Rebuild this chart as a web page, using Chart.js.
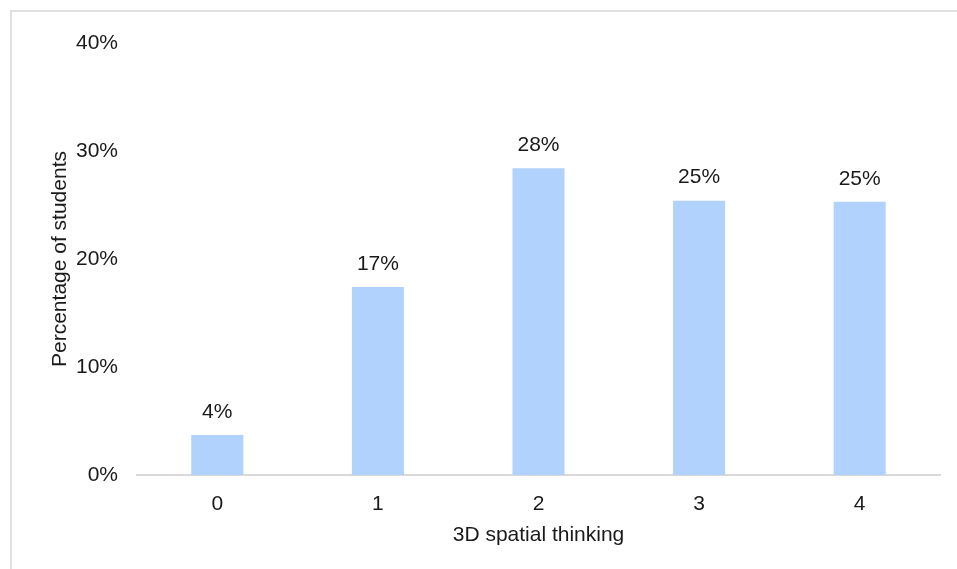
<!DOCTYPE html>
<html>
<head>
<meta charset="utf-8">
<script src="https://cdn.jsdelivr.net/npm/chart.js@4/dist/chart.umd.min.js"></script>
<style>
  html, body { margin: 0; padding: 0; background: #fff; }
  #wrap { position: relative; width: 957px; height: 569px; overflow: hidden; }
  #frame { position: absolute; left: 10px; top: 10px; width: 1000px; height: 600px;
           border-left: 2px solid #e0e0e0; border-top: 2px solid #e0e0e0; }
  canvas { position: absolute; left: 0; top: 0; }
</style>
</head>
<body>
<div id="wrap">
  <div id="frame"></div>
  <canvas id="myChart" width="957" height="569"></canvas>
</div>
<script>
// share of students at each 3D spatial thinking level
let levels = ['0', '1', '2', '3', '4'];
let studentShare = [3.7, 17.4, 28.4, 25.4, 25.3];
let yTicks = [0, 10, 20, 30, 40];

Chart.defaults.font.family = "'Liberation Sans', Arial, sans-serif";
Chart.defaults.font.size = 21;
Chart.defaults.color = '#1a1a1a';

// writes the rounded percentage above each bar
let barLabels = {
  id: 'barLabels',
  afterDatasetsDraw(chart) {
    let ctx = chart.ctx;
    let meta = chart.getDatasetMeta(0);
    ctx.save();
    ctx.font = "21px 'Liberation Sans', Arial, sans-serif";
    ctx.fillStyle = '#1a1a1a';
    ctx.textAlign = 'center';
    ctx.textBaseline = 'middle';
    meta.data.forEach((bar, i) => {
      ctx.fillText(Math.round(studentShare[i]) + '%', bar.x, bar.y - 23);
    });
    ctx.restore();
  }
};

let ctx = document.getElementById('myChart').getContext('2d');
let chart = new Chart(ctx, {
  type: 'bar',
  data: {
    labels: levels,
    datasets: [{
      data: studentShare,
      backgroundColor: '#b0d2fc',
      barPercentage: 0.324,
      categoryPercentage: 1
    }]
  },
  options: {
    responsive: false,
    animation: false,
    layout: { padding: { top: 43, right: 17, bottom: 18, left: 0 } },
    plugins: { legend: { display: false }, tooltip: { enabled: false } },
    scales: {
      x: {
        grid: { display: false },
        border: { color: '#d9d9d9', width: 2 },
        ticks: { padding: 9 },
        title: { display: true, text: '3D spatial thinking', padding: { top: 8, bottom: 3 } },
        afterFit(scale) { scale.height = 76; }
      },
      y: {
        min: 0,
        max: 40,
        afterBuildTicks(scale) { scale.ticks = yTicks.map(v => ({ value: v })); },
        grid: { display: false },
        border: { display: false },
        ticks: { padding: 11, callback: v => v + '%' },
        title: { display: true, text: 'Percentage of students', padding: { top: 48, bottom: 0 } },
        afterFit(scale) { scale.width = 137; }
      }
    }
  },
  plugins: [barLabels]
});
</script>
</body>
</html>
